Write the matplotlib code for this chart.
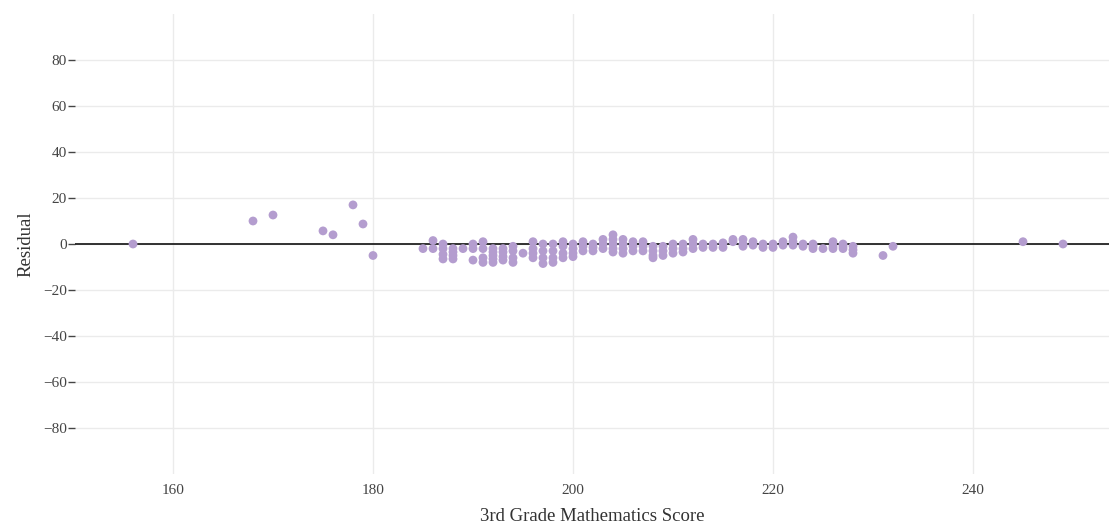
import matplotlib.pyplot as plt

# puntuaciones (x) y residuos (y)
scores = [156, 168, 170, 175, 176, 178, 179, 180,
          185,
          186, 186,
          187, 187, 187, 187,
          188, 188, 188, 188,
          189,
          190, 190, 190,
          191, 191, 191, 191,
          192, 192, 192, 192, 192,
          193, 193, 193, 193,
          194, 194, 194, 194,
          195,
          196, 196, 196, 196,
          197, 197, 197, 197,
          198, 198, 198, 198,
          199, 199, 199, 199,
          200, 200, 200, 200,
          201, 201, 201,
          202, 202, 202,
          203, 203, 203,
          204, 204, 204, 204, 204,
          205, 205, 205, 205,
          206, 206, 206,
          207, 207, 207,
          208, 208, 208, 208,
          209, 209, 209,
          210, 210, 210,
          211, 211, 211,
          212, 212, 212,
          213, 213,
          214, 214,
          215, 215,
          216, 216,
          217, 217, 217,
          218, 218,
          219, 219,
          220, 220,
          221, 221,
          222, 222, 222,
          223, 223,
          224, 224, 224,
          225,
          226, 226, 226,
          227, 227, 227,
          228, 228, 228,
          231, 232, 245, 249]
residuals = [0, 10, 12.6, 5.7, 4, 17, 8.7, -5,
             -2,
             1.5, -2,
             0, -2, -4.5, -6.5,
             -2, -3.5, -5, -6.5,
             -2,
             0, -2, -7,
             1, -2, -6, -8,
             -2, -3.5, -5, -6.5, -8,
             -2, -3.5, -5.5, -7,
             -1, -3, -6, -8,
             -4,
             1, -2, -4, -6,
             0, -3, -6, -8.5,
             0, -3, -6, -8,
             1, -1, -4, -6,
             0, -2, -4, -5.5,
             1, -1, -3,
             0, -1.5, -3,
             2, 0, -2,
             4, 2, 0, -2, -3.5,
             2, 0, -2, -4,
             1, -1, -3,
             1, -1, -3,
             -1, -3, -5, -6,
             -1, -3, -5,
             0, -2, -4,
             0, -2, -3.5,
             2, 0, -2,
             0, -1.5,
             0, -1.5,
             0.5, -1.5,
             2, 1,
             2, 0, -1,
             1, -0.5,
             0, -1.5,
             0, -1.5,
             1, -0.5,
             3, 1, -0.5,
             0, -1,
             0, -1, -2,
             -2,
             1, -1, -2,
             0, -1, -2,
             -1, -2.5, -4,
             -5, -1, 1, 0]

y_ticks = [-80, -60, -40, -20, 0, 20, 40, 60, 80]
x_ticks = [160, 180, 200, 220, 240]

plt.rcParams['font.family'] = ['Liberation Serif', 'DejaVu Serif']

fig = plt.figure(figsize=(11.09, 5.25), dpi=100)
ax = fig.add_axes([75 / 1109, 51 / 525, 1034 / 1109, 460 / 525])

ax.scatter(scores, residuals, s=40, color='#b49dcf', edgecolors='none', zorder=3)
ax.axhline(0, color='#222222', linewidth=1.3, zorder=2)

ax.set_xlim(150.2, 253.6)
ax.set_ylim(-100, 100)
ax.set_xticks(x_ticks)
ax.set_yticks(y_ticks)
ax.grid(True, color='#ebebeb', linewidth=1, zorder=0)
for s in ax.spines.values():
    s.set_visible(False)

ax.tick_params(axis='x', length=0, pad=7, labelsize=11, labelcolor='#444444')
ax.tick_params(axis='y', length=5, width=1, color='#444444', pad=1,
               labelsize=11, labelcolor='#444444')

ax.set_xlabel('3rd Grade Mathematics Score', fontsize=13.5, color='#333333', labelpad=8)
ax.set_ylabel('Residual', fontsize=13.5, color='#333333', labelpad=6)

fig.savefig('out.png', dpi=100)
